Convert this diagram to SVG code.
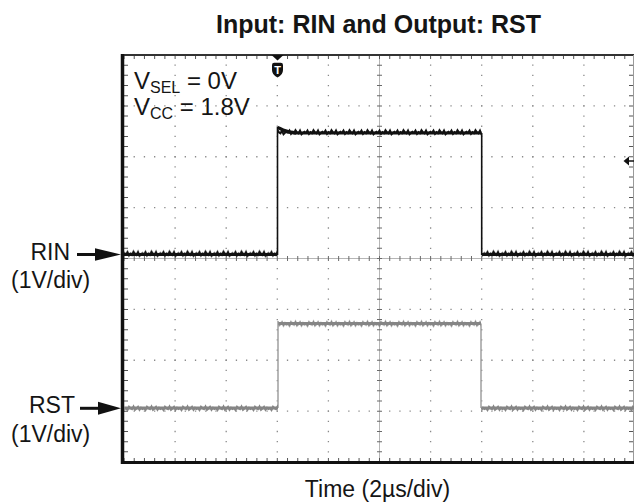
<svg xmlns="http://www.w3.org/2000/svg" width="634" height="502" viewBox="0 0 634 502">
<style>
.lbl{font-family:"Liberation Sans",Arial,sans-serif;fill:#151515}
.grid{stroke:#8a8a8a;stroke-width:1.3;fill:none}
.gv{stroke-dasharray:1.3 8.875;stroke-dashoffset:0.65}
.gh{stroke-dasharray:1.3 8.92;stroke-dashoffset:0.65}
.tickh{stroke:#6a6a6a;stroke-width:5;stroke-dasharray:1 9.22;stroke-dashoffset:-9.72;fill:none}
.tickv{stroke:#6a6a6a;stroke-width:5;stroke-dasharray:1 9.175;stroke-dashoffset:-9.675;fill:none}
.btick{stroke:#555;stroke-width:4;fill:none}
.trk{stroke:#111;fill:none}
.trg{stroke:#858585;fill:none}
</style>
<defs>
<pattern id="nzK" patternUnits="userSpaceOnUse" x="0" y="-6" width="18" height="12">
<path d="M0,6 l1.5,-2.4 l1.5,3.3 l1.5,-1.8 l1.5,1.2 l1.5,-3 l1.5,2.1 l1.5,0.9 l1.5,-2.7 l1.5,3.6 l1.5,-1.5 l1.5,-0.9 l1.5,1.2" stroke="#111" stroke-width="2" fill="none"/>
</pattern>
<pattern id="nzG" patternUnits="userSpaceOnUse" x="0" y="-6" width="18" height="12">
<path d="M0,6 l1.5,2.1 l1.5,-3.3 l1.5,1.5 l1.5,0.9 l1.5,-2.7 l1.5,3.3 l1.5,-1.2 l1.5,-1.8 l1.5,3.0 l1.5,-2.1 l1.5,1.35 l1.5,-1.05" stroke="#858585" stroke-width="2" fill="none"/>
</pattern>
</defs>

<g id="title">
<text class="lbl" x="378.5" y="33" font-size="25" font-weight="bold" text-anchor="middle">Input: RIN and Output: RST</text>
</g>

<g id="grid">
<path class="grid gv" d="M175.1,55V462M226.2,55V462M277.3,55V462M328.4,55V462M430.6,55V462M481.7,55V462M532.8,55V462M583.9,55V462"/>
<path class="grid gh" d="M124,105.9H635M124,156.75H635M124,207.6H635M124,309.4H635M124,360.25H635M124,411.1H635"/>
<path d="M124,258.5H635M379.5,55V462" stroke="#b5b5b5" stroke-width="1" fill="none"/>
<path class="tickh" d="M124,258.5H635"/>
<path class="tickv" d="M379.5,55V462"/>
<path class="btick" style="stroke-dasharray:1 9.22;stroke-dashoffset:-9.72" d="M124,57H635M124,460H635"/>
<path class="btick" style="stroke-dasharray:1 9.175;stroke-dashoffset:-9.675" d="M126,55V462M631,55V462"/>
</g>

<g id="frame">
<line x1="122" y1="55" x2="634" y2="55" stroke="#333" stroke-width="2"/>
<line x1="633.5" y1="55" x2="633.5" y2="462" stroke="#9a9a9a" stroke-width="1"/>
<line x1="122" y1="462.5" x2="634" y2="462.5" stroke="#111" stroke-width="3"/>
<line x1="122.5" y1="54" x2="122.5" y2="464" stroke="#111" stroke-width="3.5"/>
</g>

<g id="trace-rin">
<path class="trk" stroke-width="3" d="M124,254.5H277.5M295,133H481.7M481.7,254.5H634"/>
<path class="trk" stroke-width="3.4" d="M277.5,127.5L280,128.5L284,130.5L289,132L296,133"/>
<path class="trk" stroke-width="1.6" d="M277.5,255V127M481.7,133V255"/>
<g transform="translate(0,254.5)"><rect x="124" y="-6" width="153.5" height="12" fill="url(#nzK)"/><rect x="482" y="-6" width="152" height="12" fill="url(#nzK)"/></g>
<g transform="translate(0,133)"><rect x="278" y="-6" width="203.5" height="12" fill="url(#nzK)"/></g>
</g>

<g id="trace-rst">
<path class="trg" stroke-width="3" d="M124,408H278M278,323.5H481M481,408H634"/>
<path stroke="#a0a0a0" stroke-width="1.5" fill="none" d="M278,408V321M481,323.5V408"/>
<g transform="translate(0,408)"><rect x="124" y="-6" width="154" height="12" fill="url(#nzG)"/><rect x="481.5" y="-6" width="152.5" height="12" fill="url(#nzG)"/></g>
<g transform="translate(0,323.5)"><rect x="278.5" y="-6" width="202.5" height="12" fill="url(#nzG)"/></g>
</g>

<g id="trigger-marker">
<polygon points="271.5,55 283.5,55 277.5,60.5" fill="#111"/>
<path d="M272,65 q0,-2.2 2.2,-2.2 h6.6 q2.2,0 2.2,2.2 v5 q0,5 -5.5,7.5 q-5.5,-2.5 -5.5,-7.5 z" fill="#111"/>
<text x="277.5" y="74" font-family="Liberation Sans,Arial,sans-serif" font-size="11" font-weight="bold" fill="#fff" text-anchor="middle">T</text>
</g>

<g id="level-marker">
<polygon points="623.5,161 629,156.5 629,165.5" fill="#111"/>
<line x1="628" y1="161" x2="634" y2="161" stroke="#111" stroke-width="1.5"/>
</g>

<g id="conditions">
<text class="lbl" x="134" y="88.7" font-size="24">V<tspan font-size="16" dy="4">SEL</tspan><tspan dy="-4"> = 0V</tspan></text>
<text class="lbl" x="134" y="115.3" font-size="24">V<tspan font-size="16" dy="4">CC</tspan><tspan dy="-4"> = 1.8V</tspan></text>
</g>

<g id="label-rin">
<text class="lbl" x="30.5" y="260" font-size="23">RIN</text>
<text class="lbl" x="11" y="288.3" font-size="23">(1V/div)</text>
<line x1="77" y1="254.5" x2="98" y2="254.5" stroke="#111" stroke-width="3"/>
<polygon points="95,248.3 121,254.5 95,260.7" fill="#111"/>
</g>

<g id="label-rst">
<text class="lbl" x="29" y="413.3" font-size="23">RST</text>
<text class="lbl" x="11" y="442.3" font-size="23">(1V/div)</text>
<line x1="80" y1="408.3" x2="100" y2="408.3" stroke="#111" stroke-width="3"/>
<polygon points="98,401.8 121,408.3 98,414.8" fill="#111"/>
</g>

<g id="x-axis-label">
<text class="lbl" x="377.5" y="496.5" font-size="23" text-anchor="middle">Time (2µs/div)</text>
</g>
</svg>
